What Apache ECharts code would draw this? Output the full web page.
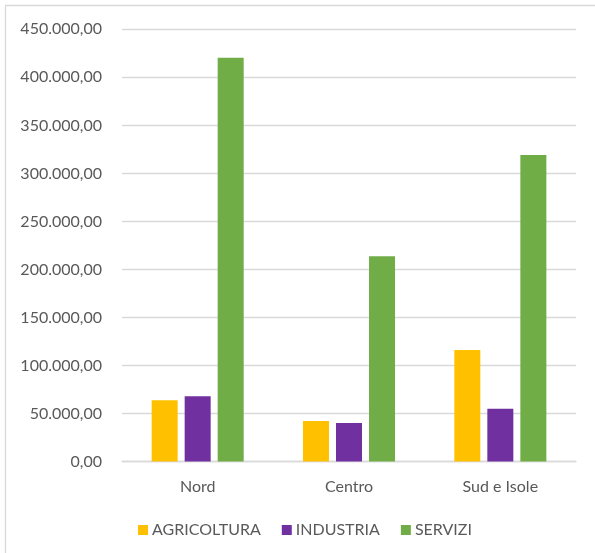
<!DOCTYPE html>
<html>
<head>
<meta charset="utf-8">
<script src="https://cdn.jsdelivr.net/npm/echarts@6/dist/echarts.min.js"></script>
<style>
html,body{margin:0;padding:0;background:#fff;}
#chart{width:595px;height:553px;}
</style>
</head>
<body>
<div id="chart"></div>
<script>
const categories = ['Nord', 'Centro', 'Sud e Isole'];
const agricoltura = [63700, 42200, 116100];
const industria = [67900, 40100, 55000];
const servizi = [420400, 213700, 319100];
const seriesNames = ['AGRICOLTURA', 'INDUSTRIA', 'SERVIZI'];
const yTicks = { min: 0, max: 450000, interval: 50000 };

function fmtIt(v) {
  const s = Math.round(v).toString().replace(/\B(?=(\d{3})+(?!\d))/g, '.');
  return s + ',00';
}

const chart = echarts.init(document.getElementById('chart'), null, { renderer: 'canvas' });
const font = 'Lato';
const textColor = '#595959';
chart.setOption({
  animation: false,
  backgroundColor: '#fff',
  graphic: [{
    type: 'rect',
    shape: { x: 5.5, y: 5.5, width: 800, height: 800 },
    style: { fill: 'none', stroke: '#d9d9d9', lineWidth: 1.3 },
    silent: true
  }],
  grid: { left: 122, right: 19, top: 29.3, bottom: 91.5, containLabel: false },
  legend: {
    data: seriesNames,
    top: 517,
    left: 133,
    itemWidth: 10,
    itemHeight: 10,
    itemGap: 21,
    icon: 'rect',
    textStyle: { fontFamily: font, fontSize: 16, color: textColor, padding: [0, 0, 0, -1] }
  },
  xAxis: {
    type: 'category',
    data: categories,
    axisLine: { show: true, lineStyle: { color: '#d9d9d9', width: 1.3 } },
    axisTick: { show: false },
    axisLabel: { fontFamily: font, fontSize: 16, color: textColor, margin: 17 }
  },
  yAxis: {
    type: 'value',
    min: yTicks.min,
    max: yTicks.max,
    interval: yTicks.interval,
    axisLine: { show: false },
    axisTick: { show: false },
    splitLine: { lineStyle: { color: '#d9d9d9', width: 1.3 } },
    axisLabel: { fontFamily: font, fontSize: 16, color: textColor, margin: 20, formatter: fmtIt }
  },
  series: [
    { name: seriesNames[0], type: 'bar', data: agricoltura, barWidth: 26, barGap: '27%', itemStyle: { color: '#FFC000' } },
    { name: seriesNames[1], type: 'bar', data: industria, barWidth: 26, barGap: '27%', itemStyle: { color: '#7030A0' } },
    { name: seriesNames[2], type: 'bar', data: servizi, barWidth: 26, barGap: '27%', itemStyle: { color: '#70AD47' } }
  ]
});
</script>
</body>
</html>
